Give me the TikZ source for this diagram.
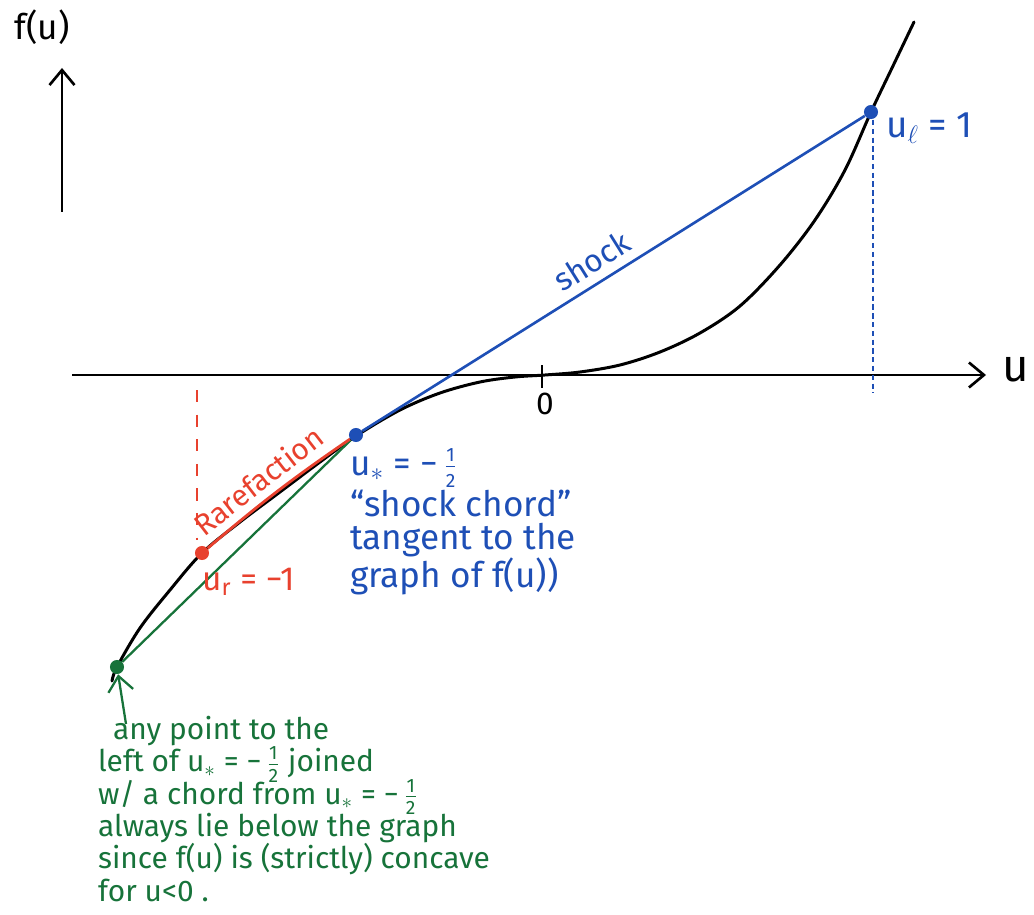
\documentclass[tikz,border=0pt]{standalone}
\usepackage{fontspec}
\setmainfont{Fira Sans}
\definecolor{skblue}{HTML}{1E4FB6}
\definecolor{skred}{HTML}{E8412E}
\definecolor{skgreen}{HTML}{17733A}
\usetikzlibrary{arrows.meta}
\newcommand{\sfrac}[2]{$\frac{\mbox{\fontsize{11}{11}\selectfont #1}}{\mbox{\fontsize{11}{11}\selectfont #2}}$}
\newcommand{\notefont}{\fontsize{17}{18.4}\selectfont\lineskiplimit=-20pt\relax}

\begin{document}
\begin{tikzpicture}[x=0.02cm,y=-0.02cm,
  axis/.style={line width=1.5pt,black},
  graph/.style={line width=1.7pt,black,line cap=round},
  tip/.style={-{Straight Barb[length=3mm,width=5mm]}},
  dot/.style={circle,inner sep=0pt,minimum size=8pt,fill=#1},
  lbl/.style={font=\fontsize{17}{18.7}\selectfont,text=#1,inner sep=1pt},
  shockln/.style={line width=1.5pt,skblue},
  rareln/.style={line width=1.6pt,skred},
  chordln/.style={line width=1.3pt,skgreen}]
  \useasboundingbox (0,0) rectangle (1034,915);
  \coordinate (yb) at (62,212);
  \coordinate (yt) at (62,68);
  \coordinate (xl) at (72,375);
  \coordinate (xr) at (986,375);
  \coordinate (t0a) at (542,365);
  \coordinate (t0b) at (542,388);
  \coordinate (rda) at (197,390);
  \coordinate (rdb) at (197,540);
  \coordinate (bda) at (873,120);
  \coordinate (bdb) at (873,393);
  \coordinate (gtail) at (126,724);
  \draw[axis,tip] (yb) -- (yt);
  \node[lbl=black,font=\fontsize{20}{22}\selectfont] (fu) at (42,27) {f(u)};
  \draw[axis,tip] (xl) -- (xr);
  \node[lbl=black,font=\fontsize{26}{28}\selectfont] (ulab) at (1016,370) {u};
  \draw[axis] (t0a) -- (t0b);
  \node[lbl=black,font=\fontsize{18}{20}\selectfont] (zero) at (545,404) {0};
  \draw[graph] plot[smooth,tension=0.55] coordinates {(112,681) (117,667) (140,628)
    (170,590) (202,553) (240,522) (280,492) (320,462) (356,436) (400,410)
    (440,393) (480,382) (515,377) (545,375) (580,372) (620,365) (660,352)
    (700,333) (740,306) (780,265) (815,220) (845,170) (871,112) (892,68)
    (914,22)};
  \draw[skred,line width=1.4pt,dash pattern=on 7pt off 7pt] (rda) -- (rdb);
  \draw[skblue,line width=1.2pt,dash pattern=on 3pt off 2pt] (bda) -- (bdb);
  \node[dot=skgreen] (pl) at (117,667) {};
  \node[dot=skred] (ur) at (202,553) {};
  \node[dot=skblue] (ustar) at (356,435) {};
  \node[dot=skblue] (ul) at (871,112) {};
  \draw[chordln] (pl) -- (ustar);
  \draw[rareln] (ur) to[bend left=3]
    node[lbl=skred,pos=0.45,sloped,above=3pt] {Rarefaction} (ustar);
  \draw[shockln] (ustar) --
    node[lbl=skblue,pos=0.48,sloped,above=4pt,font=\fontsize{18}{20}\selectfont] {shock} (ul);
  \node[lbl=skblue,anchor=west,font=\fontsize{21}{22}\selectfont] (ullbl) at (884,128) {u$_\ell$ = 1};
  \node[lbl=skblue,anchor=north west,align=left,font=\fontsize{20}{18.7}\selectfont] (chordnote) at (348,446)
    {u$_*$ = −\,\sfrac{1}{2}\\``shock chord''\\tangent to the\\graph of f(u))};
  \node[lbl=skred,anchor=west,font=\fontsize{19}{20}\selectfont] (urlbl) at (200,582) {u\textsubscript{r} = −1};
  \draw[chordln,tip] (gtail) -- (pl);
  \node[lbl=skgreen,anchor=north west,align=left,font=\notefont] (note) at (96,714)
    {\hspace{0.5em}any point to the\\left of u$_*$ = −\,\sfrac{1}{2} joined\\w/ a chord from u$_*$ = −\,\sfrac{1}{2}\\always lie below the graph\\since f(u) is (strictly) concave\\for u<0 .};
\end{tikzpicture}
\end{document}
